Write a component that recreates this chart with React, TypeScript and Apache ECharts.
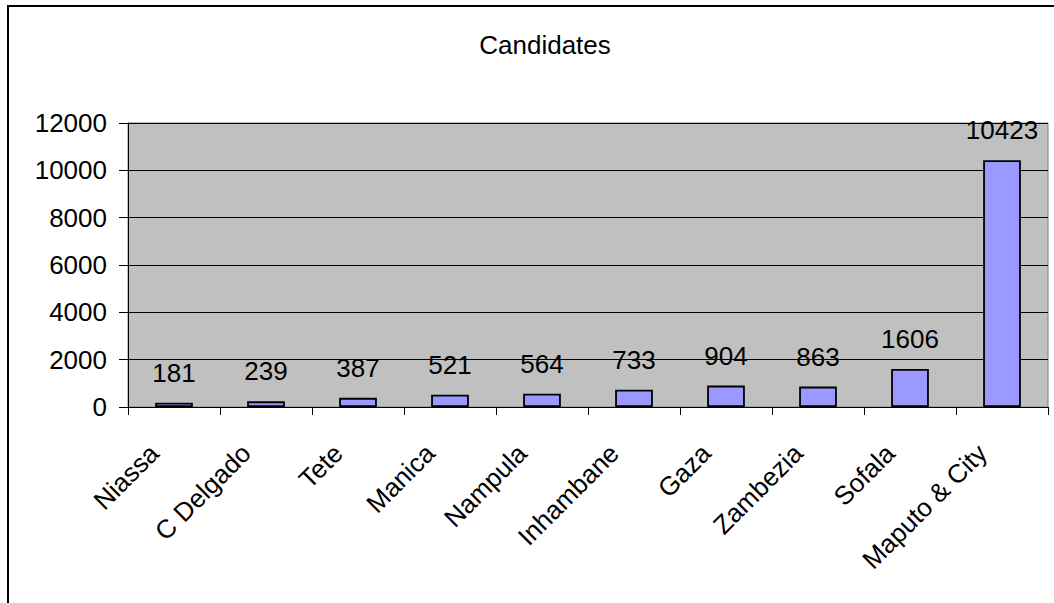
import React, { useEffect, useRef } from "react";
import * as echarts from "echarts";

const categories = ["Niassa", "C Delgado", "Tete", "Manica", "Nampula", "Inhambane", "Gaza", "Zambezia", "Sofala", "Maputo & City"];
const candidates = [181, 239, 387, 521, 564, 733, 904, 863, 1606, 10423];
const titleText = "Candidates";
const yMin = 0;
const yMax = 12000;
const yInterval = 2000;

const FONT = "'Liberation Sans', Arial, sans-serif";
const FS = 26;

export default function App() {
  const ref = useRef<HTMLDivElement>(null);
  useEffect(() => {
    document.body.style.margin = "0";
    const chart = echarts.init(ref.current!, null, { renderer: "svg" });
    chart.setOption({
      animation: false,
      backgroundColor: "#ffffff",
      title: {
        text: titleText,
        left: 540,
        top: 27,
        textAlign: "center",
        textStyle: { fontFamily: FONT, fontSize: FS, fontWeight: "normal", color: "#000" },
      },
      grid: {
        left: 128,
        top: 123,
        right: 6,
        bottom: 196,
        show: true,
        backgroundColor: "#C0C0C0",
        borderColor: "#808080",
        borderWidth: 1,
        containLabel: false,
      },
      xAxis: {
        type: "category",
        data: categories,
        boundaryGap: true,
        axisLine: { show: true, lineStyle: { color: "#000", width: 1 } },
        axisTick: { show: true, alignWithLabel: false, length: 8, lineStyle: { color: "#000" } },
        axisLabel: {
          rotate: 45,
          interval: 0,
          margin: 22,
          padding: [0, 28, 0, 0],
          fontFamily: FONT,
          fontSize: FS,
          color: "#000",
        },
      },
      yAxis: {
        type: "value",
        min: yMin,
        max: yMax,
        interval: yInterval,
        axisLine: { show: true, lineStyle: { color: "#000", width: 1 } },
        axisTick: { show: true, length: 9, lineStyle: { color: "#000" } },
        splitLine: { show: true, lineStyle: { color: "#000", width: 1 } },
        axisLabel: {
          margin: 21,
          fontFamily: FONT,
          fontSize: FS,
          color: "#000",
          formatter: (v: number) => String(v),
        },
      },
      series: [
        {
          type: "bar",
          data: candidates,
          barWidth: "41%",
          itemStyle: { color: "#9999FF", borderColor: "#000", borderWidth: 1.8 },
          label: {
            show: true,
            position: "top",
            distance: 17,
            fontFamily: FONT,
            fontSize: FS,
            color: "#000",
          },
        },
      ],
      graphic: [
        { type: "line", shape: { x1: 7, y1: 6, x2: 1054, y2: 6 }, style: { stroke: "#000", lineWidth: 2 } },
        { type: "line", shape: { x1: 8, y1: 5, x2: 8, y2: 603 }, style: { stroke: "#000", lineWidth: 2 } },
      ],
    });
    return () => chart.dispose();
  }, []);
  return <div ref={ref} style={{ width: 1054, height: 603 }} />;
}
